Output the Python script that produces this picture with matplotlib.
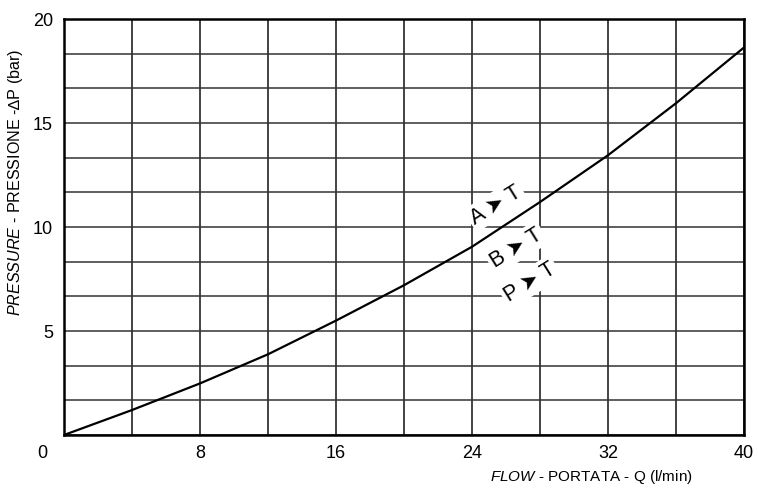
import numpy as np
import matplotlib
matplotlib.use("Agg")
import matplotlib.pyplot as plt

plt.rcParams['font.family'] = ['Liberation Sans', 'DejaVu Sans']
plt.rcParams['mathtext.fontset'] = 'custom'
plt.rcParams['mathtext.it'] = 'Liberation Sans:italic'
plt.rcParams['mathtext.rm'] = 'Liberation Sans'

# flow (l/min) vs pressure drop (bar)
flow = [0, 4, 8, 12, 16, 20, 24, 28, 32, 36, 40]
pressure = [0, 1.2, 2.48, 3.88, 5.5, 7.2, 9.05, 11.2, 13.45, 15.95, 18.63]

x_ticks = [8, 16, 24, 32, 40]
y_ticks = [5, 10, 15, 20]
x_grid = np.arange(0, 41, 4)
y_grid = np.linspace(0, 20, 13)

paths = ["A ➤ T", "B ➤ T", "P ➤ T"]
path_x = [25.4, 26.6, 27.4]
path_y = [11.05, 9.0, 7.35]

fig = plt.figure(figsize=(7.58, 4.88), dpi=100)
ax = fig.add_axes([64/758, 53/488, 680/758, 416/488])

for g in x_grid:
    ax.axvline(g, color='#111111', lw=1.1, zorder=1)
for g in y_grid:
    ax.axhline(g, color='#333333', lw=1.1, zorder=1)

ax.plot(flow, pressure, color='black', lw=1.6, zorder=3)

for lbl, tx, ty in zip(paths, path_x, path_y):
    ax.text(tx, ty, lbl, fontsize=15.5, rotation=32, ha='center', va='center',
            rotation_mode='anchor', zorder=2,
            bbox=dict(facecolor='white', edgecolor='none', pad=2))

ax.set_xlim(0, 40)
ax.set_ylim(0, 20)
ax.set_xticks(x_ticks)
ax.set_yticks(y_ticks)
ax.tick_params(length=0, labelsize=13, pad=7)
ax.tick_params(axis='y', pad=8)
for s in ax.spines.values():
    s.set_linewidth(1.8)
    s.set_zorder(4)

ax.annotate("0", (0, 0), xytext=(-22, -18), textcoords='offset pixels',
            ha='center', va='center', fontsize=13)

ax.set_xlabel(r"$\mathit{FLOW}$ - PORTATA - Q (l/min)", fontsize=11)
ax.xaxis.set_label_coords(0.776, -0.079)
ax.set_ylabel(r"$\mathit{PRESSURE}$ - PRESSIONE -∆P (bar)", fontsize=11.6)
ax.yaxis.set_label_coords(-0.058, 0.608)

fig.savefig("out.png", dpi=100)
